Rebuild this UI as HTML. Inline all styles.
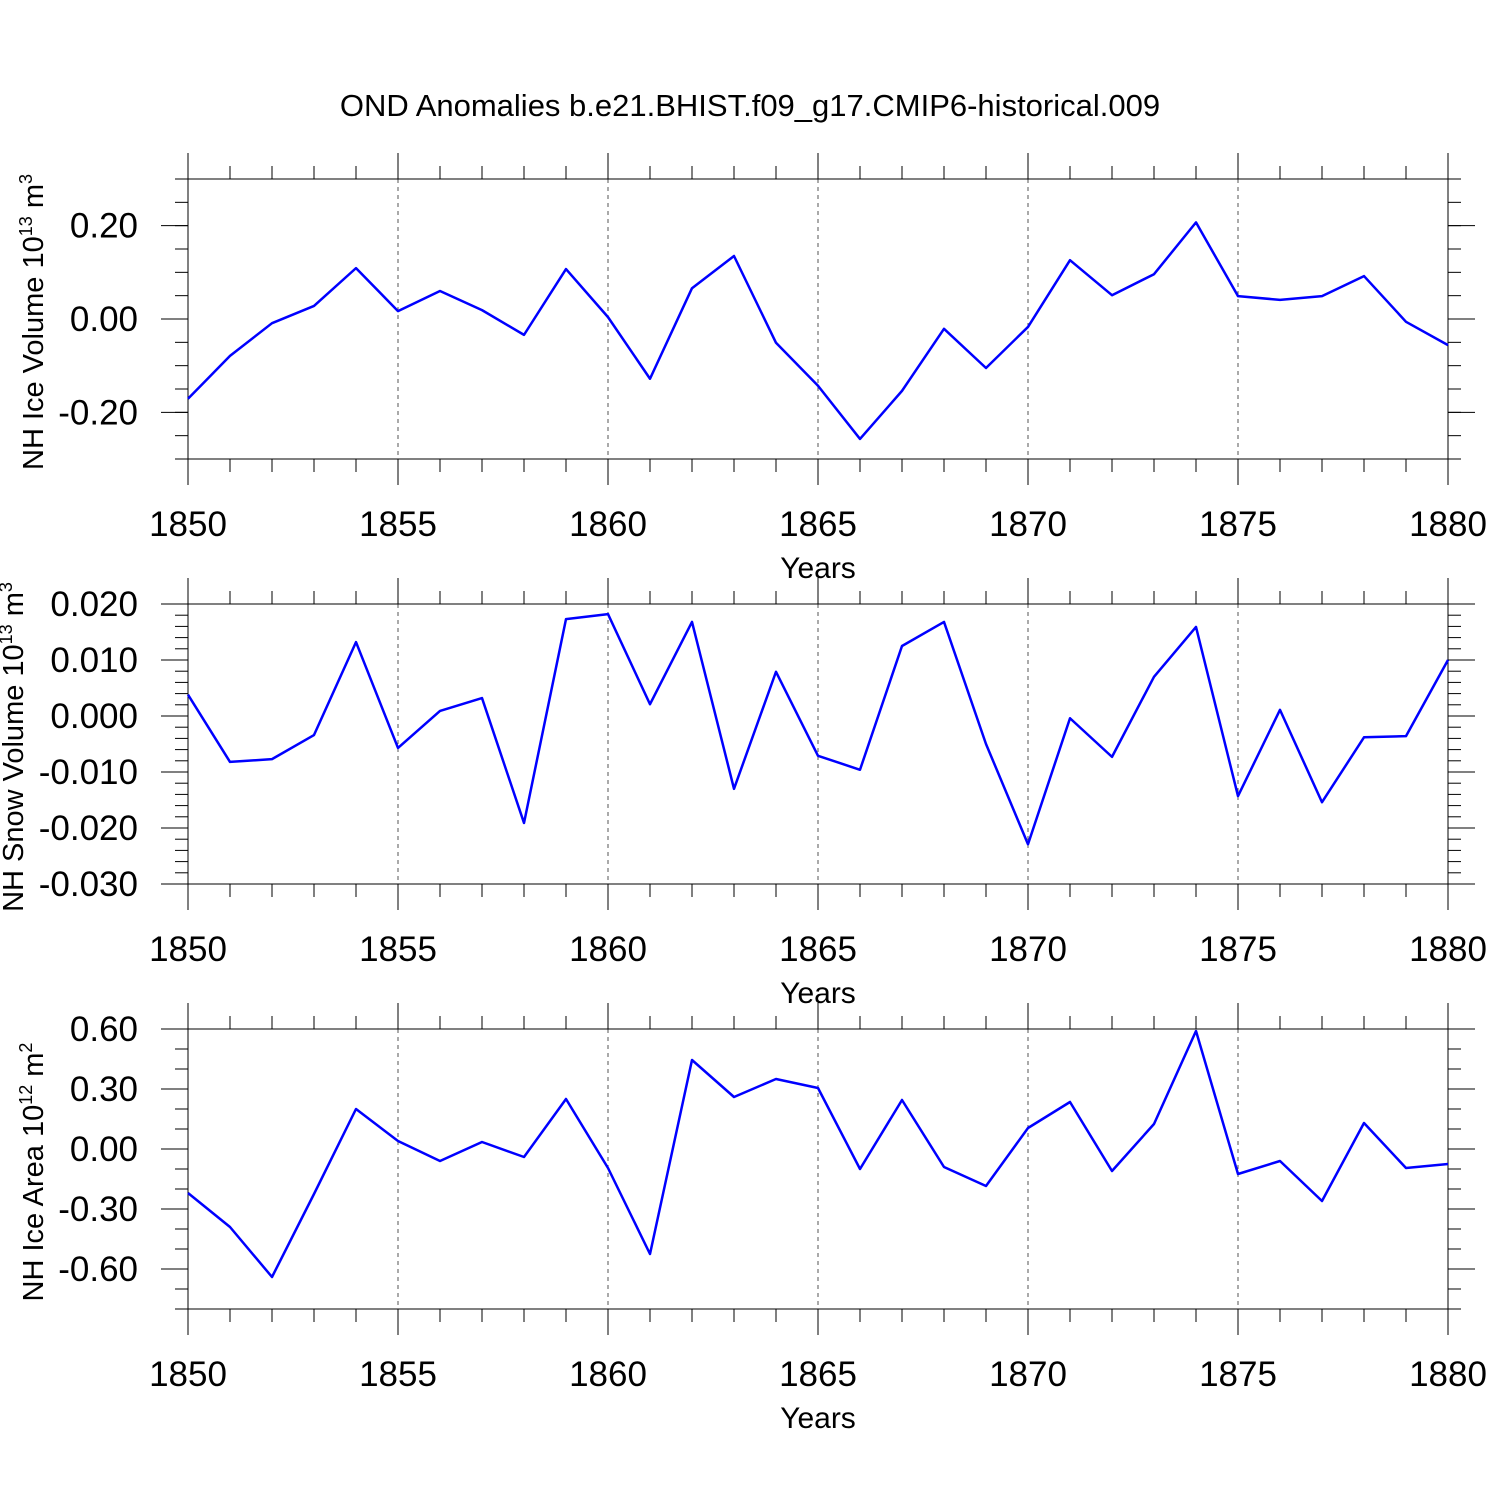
<!DOCTYPE html>
<html><head><meta charset="utf-8"><style>
html,body{margin:0;padding:0;background:#fff;}
svg{display:block;font-family:"Liberation Sans",Arial,sans-serif;}
</style></head><body>
<svg id="chart" width="1500" height="1500" viewBox="0 0 1500 1500" xmlns="http://www.w3.org/2000/svg">
<rect width="1500" height="1500" fill="#fff"/>
<text x="750" y="116" text-anchor="middle" font-size="31">OND Anomalies b.e21.BHIST.f09_g17.CMIP6-historical.009</text>
</svg>
<script>
const years = [1850,1851,1852,1853,1854,1855,1856,1857,1858,1859,1860,1861,1862,1863,1864,1865,1866,1867,1868,1869,1870,1871,1872,1873,1874,1875,1876,1877,1878,1879,1880];
const iceVolume = [-0.171,-0.079,-0.009,0.028,0.109,0.017,0.060,0.019,-0.034,0.107,0.004,-0.128,0.066,0.135,-0.051,-0.143,-0.257,-0.154,-0.021,-0.105,-0.017,0.126,0.051,0.096,0.207,0.049,0.041,0.049,0.092,-0.006,-0.056];
const snowVolume = [0.0038,-0.0082,-0.0077,-0.0034,0.0132,-0.0057,0.0009,0.0032,-0.0191,0.0173,0.0182,0.0021,0.0168,-0.0130,0.0079,-0.0071,-0.0096,0.0125,0.0168,-0.0050,-0.0229,-0.0004,-0.0073,0.0070,0.0159,-0.0143,0.0011,-0.0154,-0.0038,-0.0036,0.0100];
const iceArea = [-0.22,-0.39,-0.64,-0.225,0.20,0.04,-0.06,0.035,-0.04,0.25,-0.095,-0.525,0.445,0.26,0.35,0.305,-0.10,0.245,-0.09,-0.185,0.105,0.235,-0.11,0.125,0.59,-0.125,-0.06,-0.26,0.13,-0.095,-0.075];
const xTickLabels = ["1850","1855","1860","1865","1870","1875","1880"];
const iceVolTicks = ["-0.20","0.00","0.20"];
const snowTicks = ["-0.030","-0.020","-0.010","0.000","0.010","0.020"];
const areaTicks = ["-0.60","-0.30","0.00","0.30","0.60"];

const NS="http://www.w3.org/2000/svg";
const svg=document.getElementById('chart');
function el(tag,attrs,parent){const e=document.createElementNS(NS,tag);for(const k in attrs)e.setAttribute(k,attrs[k]);(parent||svg).appendChild(e);return e;}
const X0=188,X1=1448;
function xs(v){return X0+(v-1850)/(1880-1850)*(X1-X0);}

function panel(name,top,ymin,ymax,minorStep,ticks,values,titleHtml,titleX){
  const bot=top+280;
  const g=el('g',{});
  
  
  const ys=v=>bot-(v-ymin)/(ymax-ymin)*(bot-top);
  for(let yr=1855;yr<1880;yr+=5){
    const l=el('line',{x1:xs(yr),x2:xs(yr),y1:top,y2:bot,stroke:'#555','stroke-width':1,'stroke-dasharray':'4,4'},g);
    
    
  }
  for(let yr=1850;yr<=1880;yr++){
    const major=yr%5===0, len=major?26:13, x=xs(yr);
    el('line',{x1:x,x2:x,y1:top-len,y2:top,stroke:'#000','stroke-width':1},g);
    el('line',{x1:x,x2:x,y1:bot,y2:bot+len,stroke:'#000','stroke-width':1},g);
  }
  xTickLabels.forEach(t=>{
    const tx=el('text',{x:xs(+t),y:bot+77,'text-anchor':'middle','font-size':35},g);
    tx.textContent=t;
    
    
  });
  const xt=el('text',{x:818,y:bot+119,'text-anchor':'middle','font-size':30},g);
  xt.textContent='Years';
  
  
  const n=Math.round((ymax-ymin)/minorStep);
  for(let i=0;i<=n;i++){
    const y=ys(ymin+i*minorStep);
    el('line',{x1:X0-13,x2:X0,y1:y,y2:y,stroke:'#000','stroke-width':1},g);
    el('line',{x1:X1,x2:X1+13,y1:y,y2:y,stroke:'#000','stroke-width':1},g);
  }
  ticks.forEach(t=>{
    const y=ys(parseFloat(t));
    el('line',{x1:X0-27,x2:X0,y1:y,y2:y,stroke:'#000','stroke-width':1},g);
    el('line',{x1:X1,x2:X1+27,y1:y,y2:y,stroke:'#000','stroke-width':1},g);
    const tx=el('text',{x:138,y:y+12,'text-anchor':'end','font-size':35},g);
    tx.textContent=t;
    
    
  });
  const fr=el('rect',{x:X0,y:top,width:X1-X0,height:bot-top,fill:'none',stroke:'#000','stroke-width':1},g);
  
  
  const pts=values.map((v,i)=>xs(years[i])+','+ys(v)).join(' ');
  const pl=el('polyline',{points:pts,fill:'none',stroke:'#0000ff','stroke-width':2.5,'stroke-linejoin':'round'},g);
  
  
  const yt=el('text',{transform:`translate(${titleX},${(top+bot)/2+3}) rotate(-90)`,'text-anchor':'middle','font-size':29},g);
  yt.innerHTML=titleHtml;
  
  
}
panel('ice-volume',179,-0.3,0.3,0.05,iceVolTicks,iceVolume,'NH Ice Volume 10<tspan dy="-11" font-size="18">13</tspan><tspan dy="11"> m</tspan><tspan dy="-11" font-size="18">3</tspan>',43);
panel('snow-volume',604,-0.03,0.02,0.002,snowTicks,snowVolume,'NH Snow Volume 10<tspan dy="-11" font-size="18">13</tspan><tspan dy="11"> m</tspan><tspan dy="-11" font-size="18">3</tspan>',23);
panel('ice-area',1029,-0.8,0.6,0.1,areaTicks,iceArea,'NH Ice Area 10<tspan dy="-11" font-size="18">12</tspan><tspan dy="11"> m</tspan><tspan dy="-11" font-size="18">2</tspan>',43);
</script>
</body></html>
